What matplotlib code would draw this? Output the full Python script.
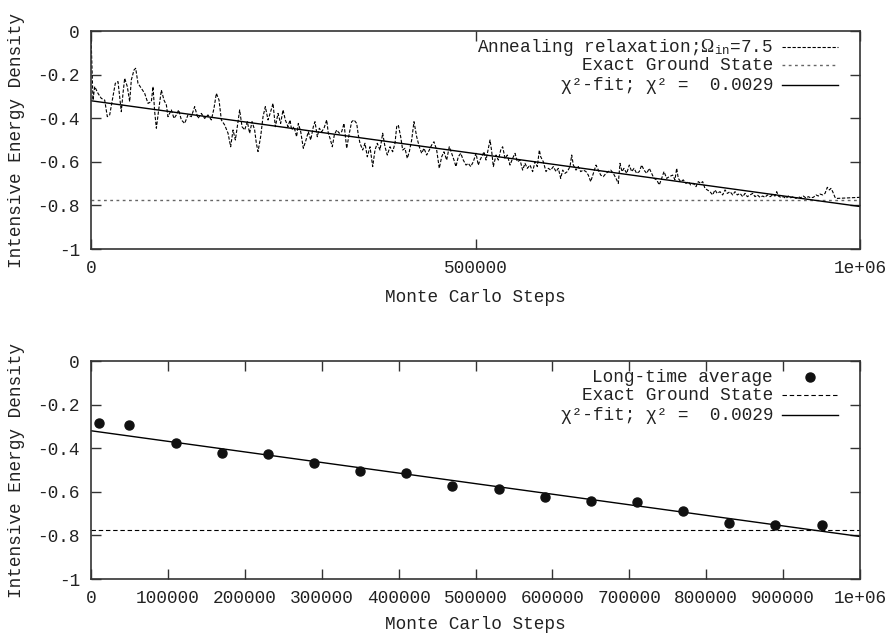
import matplotlib
matplotlib.use("Agg")
import matplotlib.pyplot as plt
import matplotlib.transforms as mtransforms
import numpy as np

# ---------------- data ----------------
# annealing relaxation trace (Monte Carlo steps in thousands, energy density)
trace_steps_k = [
    0, 2.6, 4.8, 9.1, 13.4, 17.8, 21.2, 24.3, 28.6, 31.6, 35.1, 39.4, 41.6, 43.8,
    47.2, 50.3, 52.4, 55.9, 58.1, 61.1, 65.5, 69.8, 74.1, 78.5, 80.6, 82.8, 85.0,
    88.0, 91.5, 94.9, 98.0, 100.1, 104.5, 107.9, 111.0, 114.0, 117.5, 121.8, 126.1,
    130.5, 134.8, 139.1, 143.5, 147.8, 152.1, 156.5, 159.9, 163.0, 166.5, 169.5,
    173.8, 178.2, 181.6, 184.7, 187.7, 191.2, 193.3, 196.4, 199.8, 203.3, 206.3,
    209.4, 212.8, 215.0, 217.2, 220.6, 223.7, 226.7, 230.2, 233.6, 236.7, 239.7,
    243.2, 246.6, 249.7, 252.7, 256.2,
    258.8, 260.9, 264.0, 267.4, 269.6, 272.7, 276.1, 279.6, 282.6, 285.7, 289.1,
    291.3, 294.3, 296.9, 300.0, 303.0, 306.5, 308.6, 310.8, 313.8, 316.4, 319.5,
    322.9, 326.0, 329.0, 332.5, 335.9, 339.0, 342.0, 345.5, 347.6, 349.8, 353.3,
    356.3, 359.3, 362.8, 366.3, 369.3, 372.3, 375.8, 379.3, 382.3, 385.3, 388.8,
    392.3, 395.3, 397.5, 399.6, 402.7, 405.3, 408.3, 411.3, 413.9, 417.0, 420.0,
    423.5, 426.9, 430.0, 433.0, 436.5, 439.9, 443.0, 446.0, 449.5, 452.9, 456.0,
    459.0, 462.5, 465.9, 469.0, 472.0, 474.6, 477.6, 480.8, 484.1, 487.7, 490.6,
    493.8, 497.1, 500.7, 503.6, 505.9,
    508.0, 511.1, 513.7, 516.7, 518.9, 521.1, 523.2, 526.7, 529.7, 532.8, 535.3,
    538.4, 541.4, 544.9, 548.3, 551.4, 554.4, 557.9, 561.3, 564.4, 567.4, 570.9,
    574.3, 577.4, 580.4, 583.0, 584.8, 588.2, 591.7, 594.7, 597.8, 601.2, 604.7,
    607.7, 610.8, 613.4, 616.4, 619.4, 622.9, 625.1, 627.2, 630.7, 633.7, 636.8,
    640.2, 643.7, 646.7, 649.8, 653.2, 656.7, 659.7, 662.8, 666.2, 669.7, 672.7,
    675.8, 679.2, 682.7, 685.7, 687.9, 690.5, 693.1, 696.6, 700.0, 703.1, 706.1,
    709.6, 713.0, 716.1, 719.1, 722.6, 726.0, 729.1, 732.1, 735.6, 739.0, 742.1,
    745.1, 748.6, 752.0,
    756.4, 759.4, 761.6, 763.7, 766.8, 770.2, 773.7, 776.7, 779.8, 783.2, 786.7,
    789.7, 792.8, 795.4, 798.4, 801.4, 804.9, 808.4, 811.4, 814.4, 817.9, 821.4,
    824.5, 827.5, 831.0, 834.5, 837.5, 840.5, 844.0, 847.5, 850.5, 853.5, 857.0,
    860.5, 863.5, 866.5, 870.0, 873.5, 876.5, 879.5, 883.0, 886.5, 889.5, 891.7,
    893.8, 896.9, 900.3, 903.8, 906.8, 909.9, 913.3, 916.8, 919.8, 922.9, 926.3,
    929.8, 932.8, 935.9, 939.3, 942.8, 945.8, 948.0, 951.5, 954.5, 957.5, 960.1,
    962.3, 964.5, 967.5, 969.7, 1000.0,
]
trace_energy = [
    -0.02, -0.317, -0.255, -0.286, -0.309, -0.317, -0.393, -0.385, -0.301, -0.240,
    -0.232, -0.370, -0.286, -0.217, -0.255, -0.324, -0.225, -0.179, -0.171, -0.240,
    -0.263, -0.286, -0.332, -0.324, -0.255, -0.370, -0.446, -0.362, -0.271, -0.317,
    -0.339, -0.393, -0.362, -0.401, -0.385, -0.362, -0.408, -0.424, -0.385, -0.393,
    -0.347, -0.401, -0.378, -0.401, -0.385, -0.408, -0.355, -0.286, -0.317, -0.408,
    -0.431, -0.469, -0.531, -0.454, -0.500, -0.416, -0.362, -0.439, -0.454, -0.416,
    -0.469, -0.416, -0.454, -0.515, -0.553, -0.485, -0.393, -0.347, -0.408, -0.370,
    -0.332, -0.439, -0.378, -0.424, -0.362, -0.408, -0.439,
    -0.408, -0.454, -0.439, -0.485, -0.424, -0.462, -0.538, -0.500, -0.462, -0.500,
    -0.439, -0.416, -0.485, -0.446, -0.462, -0.446, -0.408, -0.469, -0.492, -0.531,
    -0.477, -0.454, -0.469, -0.462, -0.424, -0.538, -0.469, -0.416, -0.408, -0.424,
    -0.477, -0.515, -0.546, -0.515, -0.577, -0.531, -0.622, -0.546, -0.515, -0.546,
    -0.469, -0.531, -0.569, -0.531, -0.554, -0.515, -0.439, -0.431, -0.485, -0.546,
    -0.538, -0.584, -0.554, -0.500, -0.416, -0.485, -0.531, -0.561, -0.538, -0.569,
    -0.546, -0.523, -0.508, -0.546, -0.630, -0.577, -0.554, -0.592, -0.531, -0.561,
    -0.592, -0.622, -0.577, -0.561, -0.592, -0.615, -0.607, -0.622, -0.600, -0.561,
    -0.615, -0.592,
    -0.577, -0.554, -0.592, -0.538, -0.500, -0.554, -0.622, -0.569, -0.592, -0.546,
    -0.531, -0.584, -0.569, -0.615, -0.584, -0.561, -0.600, -0.592, -0.638, -0.607,
    -0.630, -0.615, -0.645, -0.600, -0.622, -0.546, -0.577, -0.600, -0.645, -0.630,
    -0.638, -0.622, -0.645, -0.630, -0.676, -0.638, -0.653, -0.645, -0.622, -0.569,
    -0.615, -0.638, -0.622, -0.645, -0.638, -0.645, -0.661, -0.691, -0.653, -0.615,
    -0.638, -0.661, -0.668, -0.653, -0.645, -0.638, -0.653, -0.676, -0.699, -0.607,
    -0.645, -0.630, -0.653, -0.615, -0.645, -0.630, -0.653, -0.645, -0.615, -0.638,
    -0.653, -0.630, -0.653, -0.676, -0.683, -0.706, -0.676, -0.645, -0.676, -0.668,
    -0.661, -0.683, -0.630, -0.676, -0.691, -0.683, -0.699, -0.691, -0.706, -0.699,
    -0.714, -0.691, -0.699, -0.691, -0.722, -0.729, -0.737, -0.752, -0.729, -0.745,
    -0.737, -0.752, -0.729, -0.745, -0.737, -0.752, -0.737, -0.752, -0.745, -0.760,
    -0.745, -0.760, -0.752, -0.745, -0.760, -0.752, -0.763, -0.757, -0.763, -0.752,
    -0.760, -0.752, -0.757, -0.737, -0.757, -0.763, -0.760, -0.768, -0.757, -0.765,
    -0.760, -0.768, -0.760, -0.765, -0.757, -0.766, -0.760, -0.765, -0.763, -0.752,
    -0.757, -0.748, -0.752, -0.745, -0.717, -0.729, -0.722, -0.737, -0.763, -0.768,
    -0.763,
]

# long-time averages
avg_steps = [10000, 50000, 110000, 170000, 230000, 290000, 350000, 410000, 470000,
             530000, 590000, 650000, 710000, 770000, 830000, 890000, 950000]
avg_energy = [-0.283, -0.295, -0.376, -0.424, -0.428, -0.469, -0.503, -0.515, -0.575,
              -0.587, -0.625, -0.642, -0.647, -0.690, -0.745, -0.752, -0.752]

# exact ground state and linear chi^2 fit
ground_state = -0.775
fit_intercept = -0.32
fit_slope = -4.85e-7

y_ticks = [0, -0.2, -0.4, -0.6, -0.8, -1]
y_tick_labels = ["0", "-0.2", "-0.4", "-0.6", "-0.8", "-1"]
top_x_ticks = [0, 500000, 1000000]
top_x_labels = ["0", "500000", "1e+06"]
bottom_x_ticks = [0, 100000, 200000, 300000, 400000, 500000, 600000, 700000,
                  800000, 900000, 1000000]
bottom_x_labels = ["0", "100000", "200000", "300000", "400000", "500000", "600000",
                   "700000", "800000", "900000", "1e+06"]

top_labels = [r"Annealing relaxation;$\Omega_{\mathtt{in}}$=7.5",
              "Exact Ground State",
              "χ²-fit; χ² =  0.0029"]
bottom_labels = ["Long-time average",
                 "Exact Ground State",
                 "χ²-fit; χ² =  0.0029"]

# ---------------- style ----------------
FS = 12.8
plt.rcParams["font.family"] = ["Liberation Mono", "DejaVu Sans Mono"]
plt.rcParams["mathtext.fontset"] = "custom"
plt.rcParams["mathtext.rm"] = "Liberation Serif"
plt.rcParams["mathtext.it"] = "Liberation Serif:italic"
plt.rcParams["mathtext.tt"] = "Liberation Mono"
plt.rcParams["mathtext.bf"] = "Liberation Serif:bold"

W, H = 889, 634
fig = plt.figure(figsize=(W / 100, H / 100), dpi=100)

def frac_rect(x0, y0, x1, y1):
    return [x0 / W, 1 - y1 / H, (x1 - x0) / W, (y1 - y0) / H]

ax_top = fig.add_axes(frac_rect(91, 31, 860, 249))
ax_bot = fig.add_axes(frac_rect(91, 361, 860, 579))

def style_axes(ax, xticks, xlabels, xlabel_y):
    ax.set_xlim(0, 1000000)
    ax.set_ylim(-1, 0)
    ax.set_xticks(xticks)
    ax.set_xticklabels(xlabels)
    ax.set_yticks(y_ticks)
    ax.set_yticklabels(y_tick_labels)
    ax.tick_params(direction="in", length=7, width=1.0, color="#333333",
                   top=True, right=True, labelsize=FS, pad=8, labelcolor="#222222")
    for s in ax.spines.values():
        s.set_linewidth(1.2)
        s.set_color("#333333")
    ax.set_xlabel("Monte Carlo Steps", fontsize=FS, color="#222222")
    ax.set_ylabel("Intensive Energy Density", fontsize=FS, color="#222222")
    ax.xaxis.set_label_coords(0.5, xlabel_y)
    ax.yaxis.set_label_coords(-0.086, 0.5)

style_axes(ax_top, top_x_ticks, top_x_labels, -0.185)
style_axes(ax_bot, bottom_x_ticks, bottom_x_labels, -0.17)

fit_x = np.array([0, 1000000])
fit_y = fit_intercept + fit_slope * fit_x

trace_style = dict(color="black", lw=0.8, linestyle=(0, (3, 1.5)))
gs_top_style = dict(color="#666666", lw=1.0, linestyle=(0, (2, 2.5)))
gs_bot_style = dict(color="black", lw=0.8, linestyle=(0, (4, 2.5)))
fit_style = dict(color="black", lw=1.0)

# top panel
ax_top.plot(np.array(trace_steps_k) * 1000, trace_energy, **trace_style)
ax_top.axhline(ground_state, **gs_top_style)
ax_top.plot(fit_x, fit_y, **fit_style)

# bottom panel
ax_bot.axhline(ground_state, **gs_bot_style)
ax_bot.plot(fit_x, fit_y, **fit_style)
ax_bot.plot(avg_steps, avg_energy, "o", color="#111111", ms=6.5, lw=0)

# gnuplot-like keys: right-aligned text followed by a sample
row_y = [0.928, 0.842, 0.753]
text_x = 0.887
samp_x0, samp_x1 = 0.899, 0.971

def draw_key(ax, labels, styles):
    off = mtransforms.ScaledTranslation(0, -5 / 100, fig.dpi_scale_trans)
    for lab, y, st in zip(labels, row_y, styles):
        ax.text(text_x, y, lab, transform=ax.transAxes + off, ha="right",
                va="baseline", fontsize=FS, color="#222222")
        if st.get("marker"):
            ax.plot([(samp_x0 + samp_x1) / 2], [y], transform=ax.transAxes,
                    linestyle="none", marker="o", color="#111111", ms=6.5,
                    clip_on=False)
        else:
            ax.plot([samp_x0, samp_x1], [y, y], transform=ax.transAxes,
                    clip_on=False, **st)

draw_key(ax_top, top_labels, [trace_style, gs_top_style, fit_style])
draw_key(ax_bot, bottom_labels, [dict(marker=True), gs_bot_style, fit_style])

fig.savefig("out.png", dpi=100)
